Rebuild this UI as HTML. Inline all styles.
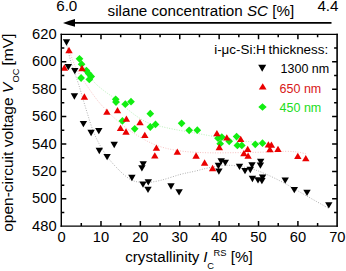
<!DOCTYPE html>
<html><head><meta charset="utf-8"><style>
html,body{margin:0;padding:0;background:#fff;}
svg{display:block;font-family:"Liberation Sans",sans-serif;font-size:14.7px;}
</style></head><body>
<svg width="346" height="271" viewBox="0 0 346 271">
<path d="M66.5 43.0C67.2 46.2 69.0 55.2 71.0 62.0C73.0 68.8 76.0 76.2 78.5 84.0C81.0 91.8 83.4 100.8 86.0 109.0C88.6 117.2 91.0 125.8 94.0 133.0C97.0 140.2 100.3 146.3 104.0 152.0C107.7 157.7 111.6 162.4 116.0 167.0C120.4 171.6 125.8 176.9 130.5 179.5C135.2 182.1 139.6 182.3 144.5 182.5C149.4 182.7 154.1 181.8 160.0 180.5C165.9 179.2 174.2 176.1 180.0 174.5C185.8 172.9 189.9 172.4 195.0 171.2C200.1 170.0 204.5 168.5 210.3 167.5C216.1 166.5 223.4 165.1 230.0 165.3C236.6 165.5 244.2 167.1 250.0 168.5C255.8 169.9 259.2 171.2 265.0 173.7C270.8 176.2 278.3 179.9 285.0 183.5C291.7 187.1 297.8 190.9 305.0 195.0C312.2 199.1 324.2 205.8 328.0 208.0" fill="none" stroke="#a8a8a8" stroke-width="0.9" stroke-dasharray="1 1.5"/><path d="M69.0 50.0C70.2 53.0 73.2 62.3 76.0 68.0C78.8 73.7 81.7 78.0 85.8 84.0C89.9 90.0 94.8 97.5 100.5 104.0C106.2 110.5 114.2 118.0 120.0 123.0C125.8 128.0 130.0 130.8 135.0 134.0C140.0 137.2 145.0 140.2 150.0 142.5C155.0 144.8 159.2 146.5 165.0 148.0C170.8 149.5 177.5 150.7 185.0 151.5C192.5 152.3 200.8 152.6 210.0 152.8C219.2 153.0 230.0 152.7 240.0 152.6C250.0 152.5 262.5 152.2 270.0 152.0C277.5 151.8 280.5 151.3 285.0 151.3C289.5 151.3 293.5 151.6 297.0 152.0C300.5 152.4 304.5 153.5 306.0 153.8" fill="none" stroke="#f5bcbc" stroke-width="0.9" stroke-dasharray="1 1.5"/><path d="M79.5 58.5C80.8 60.8 84.4 67.9 87.0 72.0C89.6 76.1 92.0 79.8 95.0 83.0C98.0 86.2 101.7 88.9 105.0 91.5C108.3 94.1 111.5 95.8 115.0 98.5C118.5 101.2 122.3 105.0 126.0 108.0C129.7 111.0 133.3 114.0 137.0 116.5C140.7 119.0 144.2 121.2 148.0 122.8C151.8 124.4 155.5 125.1 160.0 126.2C164.5 127.3 169.2 128.4 175.0 129.5C180.8 130.6 188.5 131.8 195.0 133.0C201.5 134.2 207.3 135.3 214.0 136.5C220.7 137.7 227.0 138.9 235.0 140.0C243.0 141.1 257.5 142.5 262.0 143.0" fill="none" stroke="#b4eeb4" stroke-width="0.9" stroke-dasharray="1 1.5"/><path d="M79.50 54.90L83.35 58.80L79.50 62.70L75.65 58.80Z" fill="#11ee11"/><path d="M81.60 60.30L85.45 64.20L81.60 68.10L77.75 64.20Z" fill="#11ee11"/><path d="M86.40 66.70L90.25 70.60L86.40 74.50L82.55 70.60Z" fill="#11ee11"/><path d="M88.60 69.70L92.45 73.60L88.60 77.50L84.75 73.60Z" fill="#11ee11"/><path d="M91.20 72.60L95.05 76.50L91.20 80.40L87.35 76.50Z" fill="#11ee11"/><path d="M89.30 75.50L93.15 79.40L89.30 83.30L85.45 79.40Z" fill="#11ee11"/><path d="M81.10 74.10L84.95 78.00L81.10 81.90L77.25 78.00Z" fill="#11ee11"/><path d="M115.70 95.40L119.55 99.30L115.70 103.20L111.85 99.30Z" fill="#11ee11"/><path d="M116.00 98.10L119.85 102.00L116.00 105.90L112.15 102.00Z" fill="#11ee11"/><path d="M125.30 100.30L129.15 104.20L125.30 108.10L121.45 104.20Z" fill="#11ee11"/><path d="M131.00 97.80L134.85 101.70L131.00 105.60L127.15 101.70Z" fill="#11ee11"/><path d="M122.40 117.00L126.25 120.90L122.40 124.80L118.55 120.90Z" fill="#11ee11"/><path d="M134.70 124.90L138.55 128.80L134.70 132.70L130.85 128.80Z" fill="#11ee11"/><path d="M150.30 109.80L154.15 113.70L150.30 117.60L146.45 113.70Z" fill="#11ee11"/><path d="M150.30 123.10L154.15 127.00L150.30 130.90L146.45 127.00Z" fill="#11ee11"/><path d="M155.50 120.50L159.35 124.40L155.50 128.30L151.65 124.40Z" fill="#11ee11"/><path d="M181.60 119.40L185.45 123.30L181.60 127.20L177.75 123.30Z" fill="#11ee11"/><path d="M189.20 126.40L193.05 130.30L189.20 134.20L185.35 130.30Z" fill="#11ee11"/><path d="M197.30 126.30L201.15 130.20L197.30 134.10L193.45 130.20Z" fill="#11ee11"/><path d="M218.00 134.30L221.85 138.20L218.00 142.10L214.15 138.20Z" fill="#11ee11"/><path d="M221.80 133.20L225.65 137.10L221.80 141.00L217.95 137.10Z" fill="#11ee11"/><path d="M220.20 139.80L224.05 143.70L220.20 147.60L216.35 143.70Z" fill="#11ee11"/><path d="M229.20 137.40L233.05 141.30L229.20 145.20L225.35 141.30Z" fill="#11ee11"/><path d="M236.60 132.70L240.45 136.60L236.60 140.50L232.75 136.60Z" fill="#11ee11"/><path d="M237.40 141.50L241.25 145.40L237.40 149.30L233.55 145.40Z" fill="#11ee11"/><path d="M241.80 141.50L245.65 145.40L241.80 149.30L237.95 145.40Z" fill="#11ee11"/><path d="M255.30 140.40L259.15 144.30L255.30 148.20L251.45 144.30Z" fill="#11ee11"/><path d="M262.50 139.30L266.35 143.20L262.50 147.10L258.65 143.20Z" fill="#11ee11"/><path d="M65.30 53.15H72.70L69.00 46.85Z" fill="#ea0000"/><path d="M60.70 70.65H68.10L64.40 64.35Z" fill="#ea0000"/><path d="M78.30 71.15H85.70L82.00 64.85Z" fill="#ea0000"/><path d="M80.70 99.65H88.10L84.40 93.35Z" fill="#ea0000"/><path d="M103.20 114.75H110.60L106.90 108.45Z" fill="#ea0000"/><path d="M113.80 113.25H121.20L117.50 106.95Z" fill="#ea0000"/><path d="M122.70 121.75H130.10L126.40 115.45Z" fill="#ea0000"/><path d="M116.80 130.95H124.20L120.50 124.65Z" fill="#ea0000"/><path d="M122.30 134.65H129.70L126.00 128.35Z" fill="#ea0000"/><path d="M136.30 125.35H143.70L140.00 119.05Z" fill="#ea0000"/><path d="M141.10 138.05H148.50L144.80 131.75Z" fill="#ea0000"/><path d="M152.70 150.75H160.10L156.40 144.45Z" fill="#ea0000"/><path d="M151.10 158.55H158.50L154.80 152.25Z" fill="#ea0000"/><path d="M173.60 154.75H181.00L177.30 148.45Z" fill="#ea0000"/><path d="M192.40 158.65H199.80L196.10 152.35Z" fill="#ea0000"/><path d="M200.90 165.65H208.30L204.60 159.35Z" fill="#ea0000"/><path d="M208.90 171.15H216.30L212.60 164.85Z" fill="#ea0000"/><path d="M213.20 136.35H220.60L216.90 130.05Z" fill="#ea0000"/><path d="M223.10 140.55H230.50L226.80 134.25Z" fill="#ea0000"/><path d="M215.60 150.15H223.00L219.30 143.85Z" fill="#ea0000"/><path d="M237.00 141.95H244.40L240.70 135.65Z" fill="#ea0000"/><path d="M244.00 151.95H251.40L247.70 145.65Z" fill="#ea0000"/><path d="M240.20 156.25H247.60L243.90 149.95Z" fill="#ea0000"/><path d="M244.40 158.85H251.80L248.10 152.55Z" fill="#ea0000"/><path d="M264.70 147.45H272.10L268.40 141.15Z" fill="#ea0000"/><path d="M267.70 147.75H275.10L271.40 141.45Z" fill="#ea0000"/><path d="M266.20 152.35H273.60L269.90 146.05Z" fill="#ea0000"/><path d="M274.30 151.95H281.70L278.00 145.65Z" fill="#ea0000"/><path d="M294.10 158.95H301.50L297.80 152.65Z" fill="#ea0000"/><path d="M302.10 161.35H309.50L305.80 155.05Z" fill="#ea0000"/><path d="M62.80 39.35H70.20L66.50 45.65Z" fill="#000"/><path d="M64.60 63.95H72.00L68.30 70.25Z" fill="#000"/><path d="M71.10 68.05H78.50L74.80 74.35Z" fill="#000"/><path d="M70.70 93.35H78.10L74.40 99.65Z" fill="#000"/><path d="M79.70 121.05H87.10L83.40 127.35Z" fill="#000"/><path d="M87.40 129.85H94.80L91.10 136.15Z" fill="#000"/><path d="M95.10 127.95H102.50L98.80 134.25Z" fill="#000"/><path d="M95.60 147.85H103.00L99.30 154.15Z" fill="#000"/><path d="M103.40 154.05H110.80L107.10 160.35Z" fill="#000"/><path d="M110.50 141.85H117.90L114.20 148.15Z" fill="#000"/><path d="M128.20 174.85H135.60L131.90 181.15Z" fill="#000"/><path d="M139.50 161.15H146.90L143.20 167.45Z" fill="#000"/><path d="M138.20 165.15H145.60L141.90 171.45Z" fill="#000"/><path d="M139.30 181.55H146.70L143.00 187.85Z" fill="#000"/><path d="M144.60 179.25H152.00L148.30 185.55Z" fill="#000"/><path d="M144.30 186.75H151.70L148.00 193.05Z" fill="#000"/><path d="M167.30 183.35H174.70L171.00 189.65Z" fill="#000"/><path d="M175.40 189.25H182.80L179.10 195.55Z" fill="#000"/><path d="M217.50 158.35H224.90L221.20 164.65Z" fill="#000"/><path d="M221.60 159.65H229.00L225.30 165.95Z" fill="#000"/><path d="M214.70 162.85H222.10L218.40 169.15Z" fill="#000"/><path d="M215.20 168.45H222.60L218.90 174.75Z" fill="#000"/><path d="M235.80 163.65H243.20L239.50 169.95Z" fill="#000"/><path d="M241.30 168.05H248.70L245.00 174.35Z" fill="#000"/><path d="M248.30 162.25H255.70L252.00 168.55Z" fill="#000"/><path d="M246.60 166.85H254.00L250.30 173.15Z" fill="#000"/><path d="M257.00 158.65H264.40L260.70 164.95Z" fill="#000"/><path d="M256.70 162.45H264.10L260.40 168.75Z" fill="#000"/><path d="M248.70 175.85H256.10L252.40 182.15Z" fill="#000"/><path d="M254.30 177.15H261.70L258.00 183.45Z" fill="#000"/><path d="M258.90 174.45H266.30L262.60 180.75Z" fill="#000"/><path d="M258.20 178.05H265.60L261.90 184.35Z" fill="#000"/><path d="M281.50 177.45H288.90L285.20 183.75Z" fill="#000"/><path d="M290.60 187.05H298.00L294.30 193.35Z" fill="#000"/><path d="M303.30 189.65H310.70L307.00 195.95Z" fill="#000"/><path d="M325.10 202.15H332.50L328.80 208.45Z" fill="#000"/>
<path d="M60.599999999999994 34.3H337.90000000000003" stroke="#000" stroke-width="1.25"/><path d="M60.5 226.1H337.90000000000003" stroke="#000" stroke-width="1.25"/><path d="M61.3 33.68V226.72" stroke="#000" stroke-width="1.45"/><path d="M337.1 33.65V226.72" stroke="#000" stroke-width="1.6"/><path d="M81.29 226.1v-3M81.29 34.3v3M100.99 226.1v-5M100.99 34.3v5M120.68 226.1v-3M120.68 34.3v3M140.37 226.1v-5M140.37 34.3v5M160.06 226.1v-3M160.06 34.3v3M179.76 226.1v-5M179.76 34.3v5M199.45 226.1v-3M199.45 34.3v3M219.14 226.1v-5M219.14 34.3v5M238.84 226.1v-3M238.84 34.3v3M258.53 226.1v-5M258.53 34.3v5M278.22 226.1v-3M278.22 34.3v3M297.91 226.1v-5M297.91 34.3v5M317.61 226.1v-3M317.61 34.3v3M61.3 212.59h3M337.1 212.59h-3M61.3 198.87h5M337.1 198.87h-5M61.3 185.16h3M337.1 185.16h-3M61.3 171.44h5M337.1 171.44h-5M61.3 157.73h3M337.1 157.73h-3M61.3 144.01h5M337.1 144.01h-5M61.3 130.30h3M337.1 130.30h-3M61.3 116.59h5M337.1 116.59h-5M61.3 102.87h3M337.1 102.87h-3M61.3 89.16h5M337.1 89.16h-5M61.3 75.44h3M337.1 75.44h-3M61.3 61.73h5M337.1 61.73h-5M61.3 48.01h3M337.1 48.01h-3" stroke="#000" stroke-width="1.5" fill="none"/>
<text x="61.60" y="242" text-anchor="middle">0</text><text x="100.99" y="242" text-anchor="middle">10</text><text x="140.37" y="242" text-anchor="middle">20</text><text x="179.76" y="242" text-anchor="middle">30</text><text x="219.14" y="242" text-anchor="middle">40</text><text x="258.53" y="242" text-anchor="middle">50</text><text x="297.91" y="242" text-anchor="middle">60</text><text x="337.30" y="242" text-anchor="middle">70</text><text x="56.6" y="230.90" text-anchor="end">480</text><text x="56.6" y="203.47" text-anchor="end">500</text><text x="56.6" y="176.04" text-anchor="end">520</text><text x="56.6" y="148.61" text-anchor="end">540</text><text x="56.6" y="121.19" text-anchor="end">560</text><text x="56.6" y="93.76" text-anchor="end">580</text><text x="56.6" y="66.33" text-anchor="end">600</text><text x="56.6" y="38.90" text-anchor="end">620</text>

<g font-size="15.2">
<text x="56.2" y="11.3">6.0</text>
<text x="317.4" y="11.3">4.4</text>
<text x="107.6" y="15.6">silane concentration <tspan font-style="italic">SC</tspan> [%]</text>
</g>
<path d="M70 22.9H331.5" stroke="#000" stroke-width="1.9"/>
<path d="M63.0 22.9Q69.5 20.6 75 19.0L75 26.8Q69.5 25.2 63.0 22.9Z" fill="#000"/>

<text font-size="15.5" transform="translate(12.6,231.8) rotate(-90)">open-circuit voltage <tspan font-style="italic">V</tspan><tspan font-size="9.3" dy="5.9" dx="0.3">OC</tspan><tspan dy="-5.9" dx="-1.4"> [mV]</tspan></text>
<g font-size="15.2"><text x="125.2" y="262.3">crystallinity</text>
<text x="203.3" y="262.3" font-style="italic">I</text>
<text x="207.3" y="268.6" font-size="9.3">C</text>
<text x="213.6" y="255.8" font-size="9.3">RS</text>
<text x="230.8" y="262.3">[%]</text></g>

<text x="214.2" y="53.8" font-size="13.4">i-μc-Si:H</text><text x="268.6" y="53.8" font-size="13.4">thickness:</text>
<g font-size="12.5">
<text x="280.6" y="72.9">1300 nm</text>
<text x="279.6" y="92.7" fill="#d81818">650 nm</text>
<text x="279.6" y="111.8" fill="#22dd22">450 nm</text>
</g>
<path d="M258.20 64.85H266.20L262.20 71.75Z" fill="#000"/>
<path d="M258.80 89.50H266.60L262.70 83.30Z" fill="#ea0000"/>
<path d="M262.50 103.30L266.70 107.00L262.50 110.70L258.30 107.00Z" fill="#11ee11"/>

</svg>
</body></html>
